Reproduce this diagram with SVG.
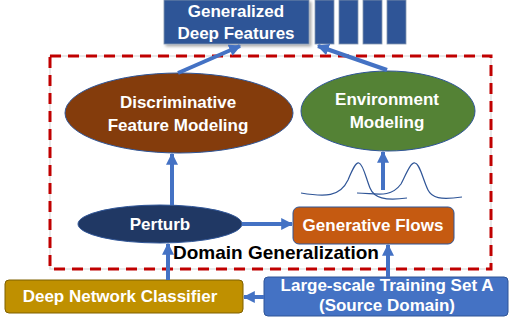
<svg xmlns="http://www.w3.org/2000/svg" width="509" height="321" viewBox="0 0 509 321">
<defs>
<marker id="ah" viewBox="0 0 10 10" refX="9" refY="5" markerWidth="3" markerHeight="3" orient="auto" markerUnits="strokeWidth">
<path d="M0,0 L10,5 L0,10 z" fill="#4472C4"/>
</marker>
<filter id="sh" x="-10%" y="-10%" width="130%" height="140%">
<feDropShadow dx="2" dy="2" stdDeviation="1.5" flood-color="#000" flood-opacity="0.35"/>
</filter>
</defs>
<style>
.t{font-family:"Liberation Sans",Arial,sans-serif;font-weight:bold;font-size:17px;fill:#fff;text-anchor:middle}
.lbl{font-family:"Liberation Sans",Arial,sans-serif;font-weight:bold;font-size:19px;fill:#000}
.c{fill:none;stroke:#4472C4;stroke-width:4;marker-end:url(#ah)}
.bar{fill:#2F5597;stroke:#8497B0;stroke-width:0.8}
.curve{fill:none;stroke:#2F5597;stroke-width:1.2}
</style>
<rect width="509" height="321" fill="#fff"/>
<g id="frame">
<rect x="50" y="56" width="441" height="213" fill="none" stroke="#D9D9D9" stroke-width="1.2"/>
<rect x="50" y="56" width="441" height="213" fill="none" stroke="#C00000" stroke-width="3" stroke-dasharray="11 7"/>
</g>
<g id="features">
<rect x="164" y="0" width="145" height="44" fill="#2F5597" stroke="#8497B0" stroke-width="0.8" filter="url(#sh)"/>
<text class="t" x="236" y="17">Generalized</text>
<text class="t" x="236" y="39">Deep Features</text>
<rect class="bar" x="315" y="0" width="19" height="44"/>
<rect class="bar" x="339" y="0" width="19" height="44"/>
<rect class="bar" x="363" y="0" width="19" height="44"/>
<rect class="bar" x="387" y="0" width="19" height="44"/>
</g>
<g id="discriminative">
<ellipse cx="179" cy="113" rx="114" ry="40" fill="#843C0C" stroke="#2F5597" stroke-width="1"/>
<text class="t" x="178" y="108">Discriminative</text>
<text class="t" x="178" y="131">Feature Modeling</text>
</g>
<g id="environment">
<ellipse cx="388" cy="111" rx="87" ry="40" fill="#548235" stroke="#2F5597" stroke-width="1"/>
<text class="t" x="387" y="105">Environment</text>
<text class="t" x="387" y="128">Modeling</text>
</g>
<g id="distributions">
<path class="curve" d="M301,193 C325,197 340,197 348,180 C353,168 356,162 359,163 C363,164 366,178 370,188 C374,198 385,201 407,198"/>
<path class="curve" d="M357,193 C375,193 390,199 401,184 C407,172 411,162 415,163 C420,164 423,180 428,190 C432,198 440,200 462,197"/>
</g>
<g id="perturb">
<ellipse cx="160" cy="224" rx="82" ry="19" fill="#203864" stroke="#2F5597" stroke-width="1"/>
<text class="t" x="160" y="230">Perturb</text>
</g>
<g id="generative">
<rect x="293" y="207" width="161" height="37" rx="6" fill="#C55A11" stroke="#2F5597" stroke-width="1"/>
<text class="t" x="373" y="231">Generative Flows</text>
</g>
<g id="label">
<text class="lbl" x="173" y="259">Domain Generalization</text>
</g>
<g id="classifier">
<rect x="5" y="280" width="238" height="33" rx="4" fill="#BF9000" stroke="#7F6000" stroke-width="1"/>
<text class="t" x="120" y="302">Deep Network Classifier</text>
</g>
<g id="source">
<rect x="264" y="277" width="244" height="39" rx="4" fill="#4472C4" stroke="#2F5597" stroke-width="1"/>
<text class="t" x="387" y="291">Large-scale Training Set A</text>
<text class="t" x="387" y="311">(Source Domain)</text>
</g>
<g id="connectors">
<path class="c" d="M178,73 L240,46"/>
<path class="c" d="M387,70 L318,46"/>
<path class="c" d="M172,205 L172,154"/>
<path class="c" d="M383,190 L383,152"/>
<path class="c" d="M242,224 L292,224"/>
<path class="c" d="M168,280 L168,244"/>
<path class="c" d="M388,277 L388,245"/>
<path class="c" d="M264,297 L244,297"/>
</g>
</svg>
